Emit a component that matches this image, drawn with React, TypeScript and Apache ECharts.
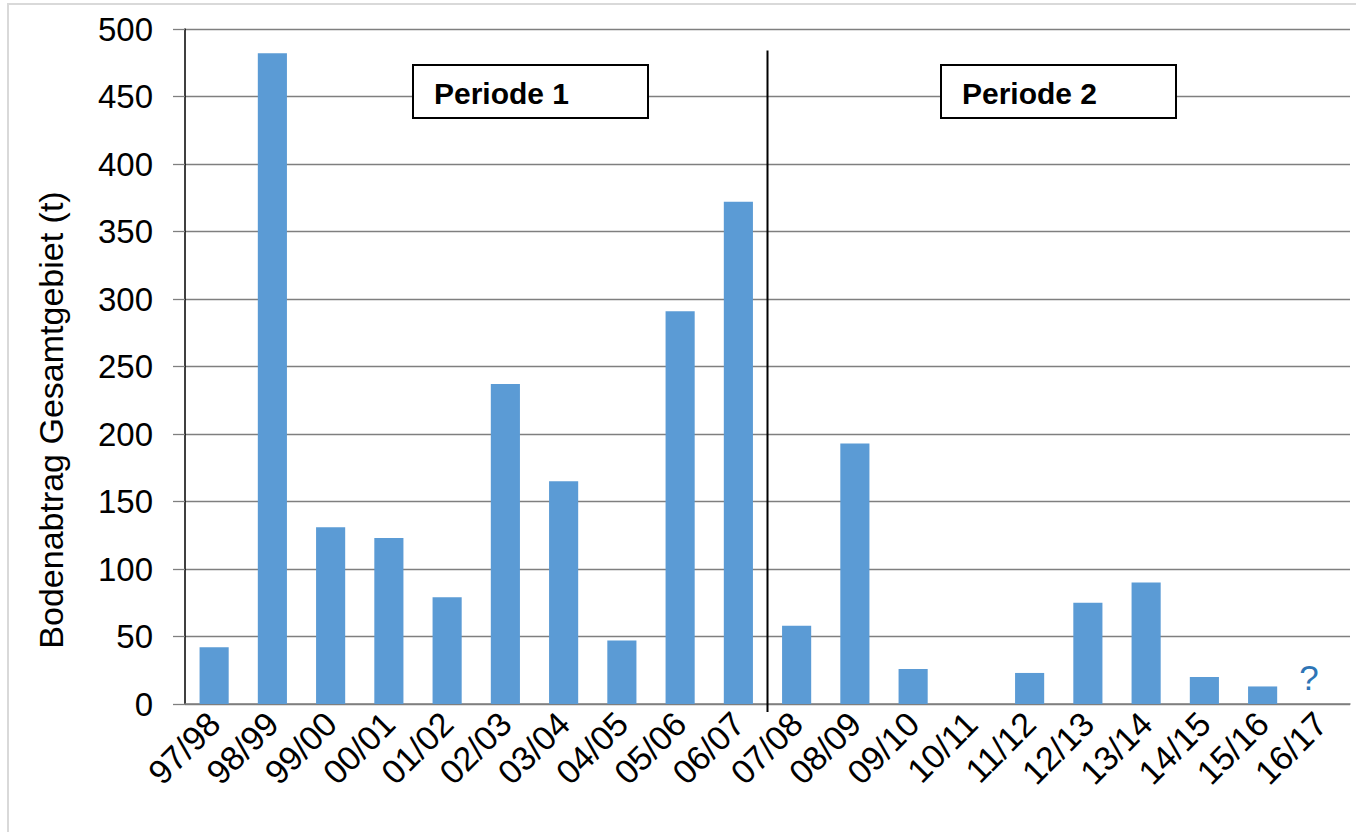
import React, { useEffect, useRef } from "react";
import * as echarts from "echarts";

const categories = [
  "97/98", "98/99", "99/00", "00/01", "01/02", "02/03", "03/04", "04/05", "05/06", "06/07",
  "07/08", "08/09", "09/10", "10/11", "11/12", "12/13", "13/14", "14/15", "15/16", "16/17",
];
const erosion = [42, 482, 131, 123, 79, 237, 165, 47, 291, 372, 58, 193, 26, 0, 23, 75, 90, 20, 13, 0];
const periods = ["Periode 1", "Periode 2"];
const yTicks = { min: 0, max: 500, interval: 50 };
const yTitle = "Bodenabtrag Gesamtgebiet (t)";

const FONT = "'Liberation Sans', Arial, sans-serif";

export default function App() {
  const ref = useRef<HTMLDivElement>(null);
  useEffect(() => {
    if (!ref.current) return;
    const chart = echarts.init(ref.current, null, { renderer: "svg" });
    const data = erosion.map((v, i) =>
      i === categories.length - 1
        ? {
            value: v,
            label: {
              show: true,
              formatter: "?",
              position: "top",
              offset: [-12, -4],
              color: "#2e75b6",
              fontSize: 35,
              fontFamily: FONT,
            },
          }
        : v
    );
    chart.setOption({
      animation: false,
      backgroundColor: "#ffffff",
      grid: { left: 185, right: 6, top: 29, bottom: 128, containLabel: false },
      xAxis: {
        type: "category",
        data: categories,
        axisLine: { show: true, lineStyle: { color: "#7f7f7f", width: 1.5 } },
        axisTick: { show: false },
        axisLabel: {
          interval: 0,
          rotate: 45,
          margin: 14,
          fontSize: 34,
          color: "#000",
          fontFamily: FONT,
        },
        splitLine: { show: false },
      },
      yAxis: {
        type: "value",
        min: yTicks.min,
        max: yTicks.max,
        interval: yTicks.interval,
        axisLine: { show: true, lineStyle: { color: "#000", width: 1.5 } },
        axisTick: { show: true, length: 12, lineStyle: { color: "#7f7f7f", width: 1.3 } },
        axisLabel: { margin: 32, fontSize: 33, color: "#000", fontFamily: FONT },
        splitLine: { show: true, lineStyle: { color: "#7f7f7f", width: 1.3 } },
      },
      series: [
        {
          type: "bar",
          data,
          barWidth: "50%",
          itemStyle: { color: "#5b9bd5" },
        },
      ],
    });

    const x9 = chart.convertToPixel({ xAxisIndex: 0 }, categories[9]) as number;
    const x10 = chart.convertToPixel({ xAxisIndex: 0 }, categories[10]) as number;
    const sepX = (x9 + x10) / 2;
    const yTop = chart.convertToPixel({ yAxisIndex: 0 }, 484) as number;
    const yBot = (chart.convertToPixel({ yAxisIndex: 0 }, 0) as number) + 8;

    const box = (x: number, label: string) => ({
      type: "group",
      x,
      y: 65,
      z: 100,
      children: [
        {
          type: "rect",
          shape: { x: 0, y: 0, width: 235, height: 53 },
          style: { fill: "#fff", stroke: "#000", lineWidth: 2 },
        },
        {
          type: "text",
          x: 21,
          y: 28,
          style: {
            text: label,
            font: `bold 30px ${FONT}`,
            fill: "#000",
            verticalAlign: "middle",
            align: "left",
          },
        },
      ],
    });

    chart.setOption({
      graphic: [
        {
          type: "rect",
          z: -10,
          shape: { x: 8, y: 4, width: 1400, height: 900 },
          style: { fill: "none", stroke: "#d9d9d9", lineWidth: 2 },
        },
        {
          type: "line",
          z: 90,
          shape: { x1: sepX, y1: yTop, x2: sepX, y2: yBot },
          style: { stroke: "#000", lineWidth: 2 },
        },
        box(413, periods[0]),
        box(941, periods[1]),
        {
          type: "text",
          x: 51,
          y: 420,
          rotation: Math.PI / 2,
          style: {
            text: yTitle,
            font: `34px ${FONT}`,
            fill: "#000",
            align: "center",
            verticalAlign: "middle",
          },
        },
      ],
    });

    return () => chart.dispose();
  }, []);
  return (
    <div
      ref={ref}
      style={{ position: "fixed", left: 0, top: 0, width: 1356, height: 832, background: "#fff" }}
    />
  );
}
